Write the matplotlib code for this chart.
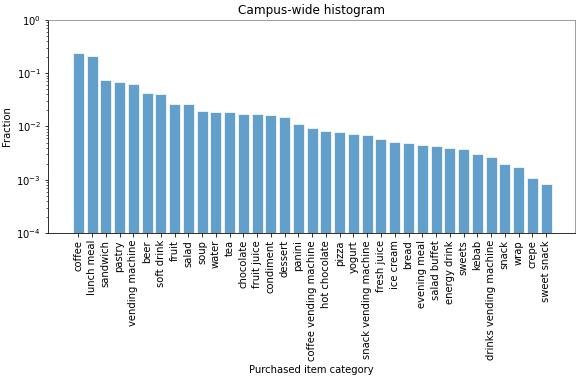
import matplotlib
matplotlib.use("Agg")
import matplotlib.pyplot as plt
import numpy as np

categories = ['coffee', 'lunch meal', 'sandwich', 'pastry', 'vending machine', 'beer',
              'soft drink', 'fruit', 'salad', 'soup', 'water', 'tea', 'chocolate',
              'fruit juice', 'condiment', 'dessert', 'panini', 'coffee vending machine',
              'hot chocolate', 'pizza', 'yogurt', 'snack vending machine', 'fresh juice',
              'ice cream', 'bread', 'evening meal', 'salad buffet', 'energy drink',
              'sweets', 'kebab', 'drinks vending machine', 'snack', 'wrap', 'crepe',
              'sweet snack']
fractions = [0.24, 0.208, 0.0736, 0.0676, 0.0637, 0.0426, 0.0402, 0.0268, 0.0268,
             0.0195, 0.0190, 0.01845, 0.0169, 0.0169, 0.0162, 0.0153, 0.0110,
             0.00925, 0.00813, 0.00789, 0.00724, 0.00703, 0.00575, 0.00519, 0.0049,
             0.00456, 0.00425, 0.00395, 0.0038, 0.00302, 0.00264, 0.0020, 0.00174,
             0.0011, 0.00083]

DPI = 72
fig = plt.figure(figsize=(581/DPI, 381/DPI), dpi=DPI)
ax = fig.add_axes([48/581, 1-233/381, 527/581, 213/381])

x = np.arange(len(categories))
ax.bar(x, fractions, width=0.8, color='C0', alpha=0.7, edgecolor='white', linewidth=1)
ax.set_yscale('log')
ax.set_ylim(1e-4, 1)
ax.set_xlim(-2.2, 36.1)
ax.set_xticks(x)
ax.set_xticklabels(categories, rotation=90)
ax.set_ylabel('Fraction')
ax.set_xlabel('Purchased item category')
ax.set_title('Campus-wide histogram')
ax.spines['top'].set_color('#888888')
ax.spines['right'].set_color('#888888')

fig.savefig('out.png', dpi=DPI)
